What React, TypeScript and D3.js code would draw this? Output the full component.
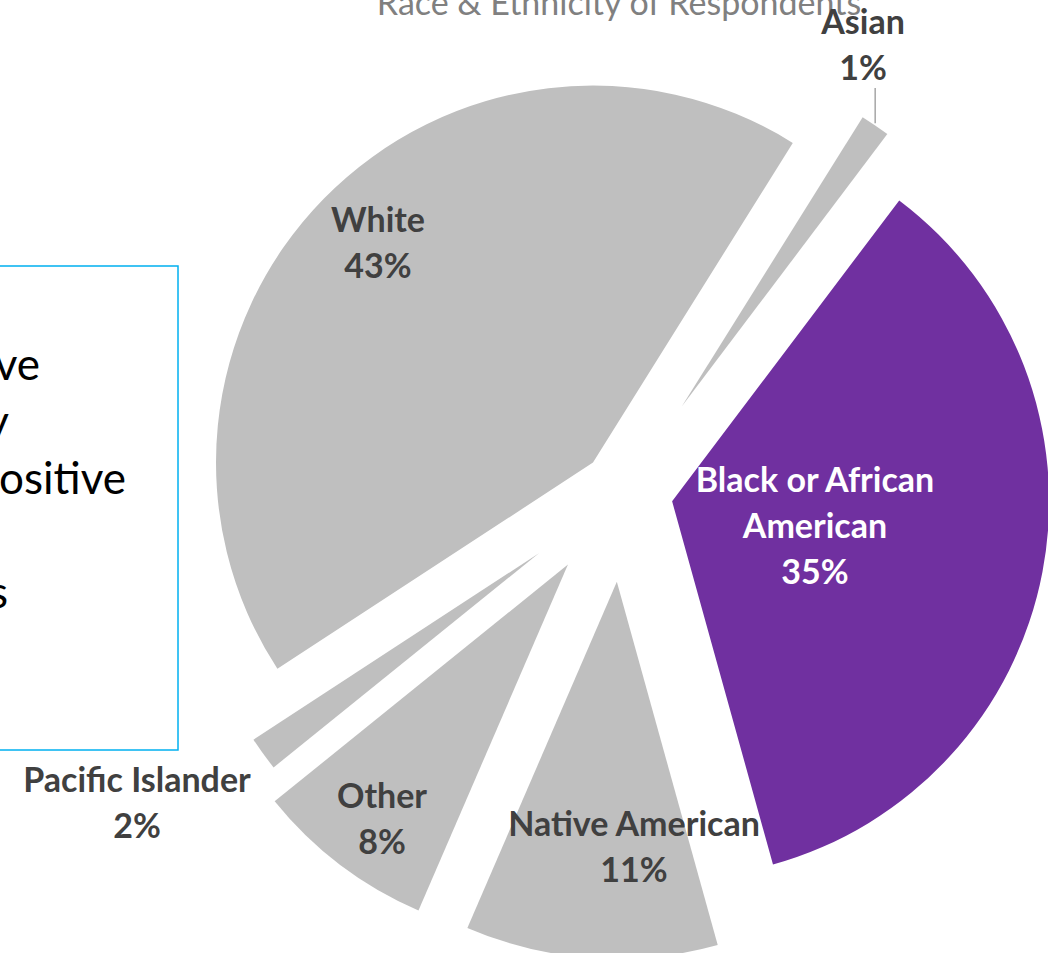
import React, { useEffect, useRef } from 'react';
import * as d3 from 'd3';

// Race & ethnicity shares (percent), in the order Excel draws them clockwise
const categories = [
    "Asian",
    "Black or African American",
    "Native American",
    "Other",
    "Pacific Islander",
    "White",
];
const shares = [1.4, 35.4, 10.8, 7.7, 1.6, 43.1];

const chartTitle = "Race & Ethnicity of Respondents";

// Fragments of the text box that is cut off by the left edge of the slide
const boxLines = ["ve", "y", "ositive", "", "s"];

// How each label is broken into lines
const labelLines: Record<string, string[]> = {
    "Asian": ["Asian"],
    "Black or African American": ["Black or African", "American"],
    "Native American": ["Native American"],
    "Other": ["Other"],
    "Pacific Islander": ["Pacific Islander"],
    "White": ["White"],
};

const App: React.FC = () => {
    const ref = useRef<SVGSVGElement>(null);

    useEffect(() => {
        document.body.style.margin = "0";
        const svg = d3.select(ref.current);
        svg.selectAll("*").remove();

        const width = 1048;
        const height = 953;
        const cx = 623;
        const cy = 492;
        const bigRadius = 377;
        const smallRadius = 341;
        const lineHeight = 46;

        // explosion distance of each point
        const explode: Record<string, number> = {
            "Asian": 104,
            "Black or African American": 50,
            "Native American": 90,
            "Other": 91,
            "Pacific Islander": 104,
            "White": 42,
        };
        // label anchor (centre x, first baseline)
        const labelPos: Record<string, [number, number]> = {
            "Asian": [863, 34],
            "Black or African American": [815, 492],
            "Native American": [634, 836],
            "Other": [382, 808],
            "Pacific Islander": [137, 792],
            "White": [378, 232],
        };

        const color = (name: string) => name === "Black or African American" ? "#7030a0" : "#bfbfbf";
        const radiusOf = (name: string) => (name === "Asian" || name === "Pacific Islander") ? smallRadius : bigRadius;

        const data = categories.map((name, i) => ({ name, value: shares[i] }));

        const startAngle = 32 * Math.PI / 180;
        const pie = d3.pie<any>()
            .sort(null)
            .value(d => d.value)
            .startAngle(startAngle)
            .endAngle(startAngle + 2 * Math.PI);

        const arcs = pie(data);

        svg.attr("viewBox", [0, 0, width, height])
           .attr("width", width)
           .attr("height", height)
           .style("font-family", "Lato, 'Open Sans', sans-serif");

        // Title (cut at the top)
        svg.append("text")
            .attr("x", 619)
            .attr("y", 15)
            .attr("text-anchor", "middle")
            .attr("fill", "#808080")
            .attr("font-size", 34)
            .text(chartTitle);

        // Slices
        const slices = svg.append("g")
            .selectAll("g")
            .data(arcs)
            .join("g")
            .attr("transform", d => {
                const mid = (d.startAngle + d.endAngle) / 2;
                const k = explode[d.data.name];
                return `translate(${cx + k * Math.sin(mid)},${cy - k * Math.cos(mid)})`;
            });

        slices.append("path")
            .attr("d", d => d3.arc<any>().innerRadius(0).outerRadius(radiusOf(d.data.name))(d))
            .attr("fill", d => color(d.data.name));

        // Leader line for Asian
        const asian = arcs.find(d => d.data.name === "Asian")!;
        {
            const mid = (asian.startAngle + asian.endAngle) / 2;
            const k = explode["Asian"];
            const r = radiusOf("Asian");
            const x0 = cx + k * Math.sin(mid) + r * Math.sin(mid);
            const y0 = cy - k * Math.cos(mid) - r * Math.cos(mid);
            svg.append("line")
                .attr("x1", x0)
                .attr("x2", x0)
                .attr("y1", y0 - 2)
                .attr("y2", labelPos["Asian"][1] + lineHeight + 8)
                .attr("stroke", "#a6a6a6")
                .attr("stroke-width", 1.5);
        }

        // Data labels
        const labels = svg.append("g")
            .attr("font-weight", 700)
            .attr("font-size", 34)
            .attr("text-anchor", "middle")
            .selectAll("text")
            .data(arcs)
            .join("text")
            .attr("fill", d => d.data.name === "Black or African American" ? "#ffffff" : "#404040");

        labels.each(function (d) {
            const [lx, ly] = labelPos[d.data.name];
            const lines = [...labelLines[d.data.name], `${Math.round(d.data.value)}%`];
            d3.select(this).selectAll("tspan")
                .data(lines)
                .join("tspan")
                .attr("x", lx)
                .attr("y", (_, i) => ly + i * lineHeight)
                .text(t => t);
        });

        // Text box on the left
        svg.append("rect")
            .attr("x", -20)
            .attr("y", 266)
            .attr("width", 198)
            .attr("height", 484)
            .attr("fill", "none")
            .attr("stroke", "#00b0f0")
            .attr("stroke-width", 1.5);

        const boxEnds = [40, 9, 126, 0, 8];
        svg.append("g")
            .attr("font-size", 44)
            .attr("fill", "#000000")
            .attr("text-anchor", "end")
            .selectAll("text")
            .data(boxLines)
            .join("text")
            .attr("x", (_, i) => boxEnds[i])
            .attr("y", (_, i) => 380 + i * 57)
            .text(t => t);
    }, []);

    return <svg ref={ref} style={{ display: "block" }} />;
};

export default App;
